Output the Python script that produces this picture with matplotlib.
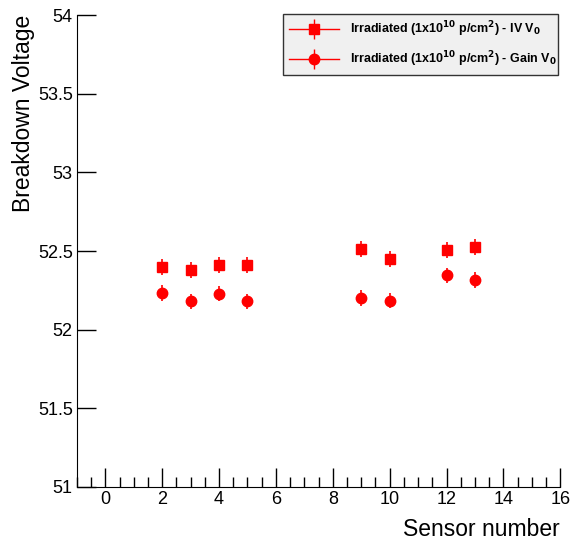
import matplotlib
matplotlib.use("Agg")
from matplotlib import pyplot as plt
from matplotlib.lines import Line2D
from matplotlib.ticker import MultipleLocator
import numpy as np

plt.rcParams['font.family'] = ['Liberation Sans', 'DejaVu Sans']

# sensor numbers and breakdown voltages
sensors = [2, 3, 4, 5, 9, 10, 12, 13]
iv_v0 = [52.40, 52.38, 52.41, 52.41, 52.515, 52.45, 52.505, 52.525]
iv_err = [0.05, 0.05, 0.05, 0.05, 0.05, 0.05, 0.05, 0.05]
gain_v0 = [52.235, 52.18, 52.23, 52.18, 52.20, 52.185, 52.345, 52.315]
gain_err = [0.05, 0.05, 0.05, 0.05, 0.05, 0.05, 0.05, 0.05]

label_iv = r'Irradiated (1x10$^{\mathbf{10}}$ p/cm$^{\mathbf{2}}$) - IV V$_{\mathbf{0}}$'
label_gain = r'Irradiated (1x10$^{\mathbf{10}}$ p/cm$^{\mathbf{2}}$) - Gain V$_{\mathbf{0}}$'

fig = plt.figure(figsize=(5.74, 5.44), dpi=100)
ax = fig.add_axes([0.134, 0.105, 0.842, 0.867])

ax.errorbar(sensors, iv_v0, yerr=iv_err, fmt='s', color='red', markersize=7,
            elinewidth=1.2, capsize=0)
ax.errorbar(sensors, gain_v0, yerr=gain_err, fmt='o', color='red', markersize=7.5,
            elinewidth=1.2, capsize=0)

ax.set_xlim(-1, 16)
ax.set_ylim(51, 54)
ax.xaxis.set_major_locator(MultipleLocator(2))
ax.xaxis.set_minor_locator(MultipleLocator(0.5))
ax.yaxis.set_major_locator(MultipleLocator(0.5))
ax.yaxis.set_major_formatter(plt.FuncFormatter(lambda v, p: ('%g' % v)))

ax.spines['top'].set_visible(False)
ax.spines['right'].set_visible(False)
ax.tick_params(axis='both', which='major', direction='in', length=14, width=1,
               labelsize=13, pad=3)
ax.tick_params(axis='x', which='minor', direction='in', length=7, width=1)
ax.tick_params(axis='y', which='minor', left=False)

ax.set_xlabel('Sensor number', fontsize=16.5, loc='right', labelpad=7)
ax.set_ylabel('Breakdown Voltage', fontsize=16.5, loc='top', labelpad=2)

# legend proxies: marker with horizontal line and vertical bar
h_iv = (Line2D([], [], color='red', lw=1, marker='s', markersize=7),
        Line2D([], [], color='red', ls='none', marker='|', markersize=14, mew=1))
h_gain = (Line2D([], [], color='red', lw=1, marker='o', markersize=7.5),
          Line2D([], [], color='red', ls='none', marker='|', markersize=14, mew=1))
x0, x1 = 283 / 574, 558 / 574
y1 = 1 - 14 / 544
leg = fig.legend([h_iv, h_gain], [label_iv, label_gain],
                 loc='upper left', bbox_to_anchor=(x0, y1 - 0.2, x1 - x0, 0.2),
                 mode='expand',
                 prop={'weight': 'bold', 'size': 9}, fancybox=False,
                 framealpha=1, edgecolor='#333333', facecolor='#f0f0f0',
                 handlelength=4.0, borderpad=0.45, borderaxespad=0,
                 labelspacing=0.85, handletextpad=0.9)
leg.get_frame().set_linewidth(1)

plt.savefig('out.png', dpi=100)
